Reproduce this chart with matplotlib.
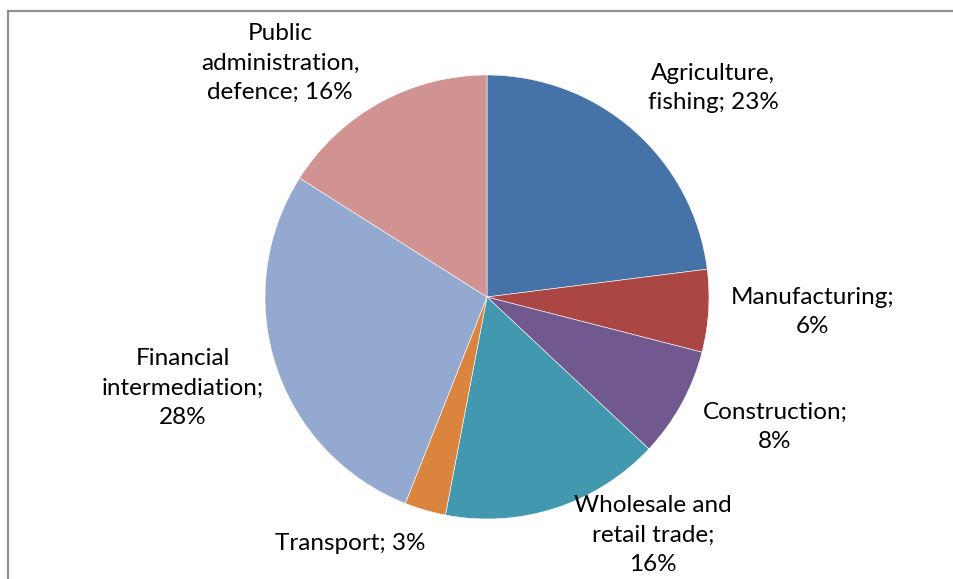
import matplotlib
matplotlib.use("Agg")
import matplotlib.pyplot as plt

plt.rcParams["font.family"] = ["Lato", "DejaVu Sans"]

sectors = [
    "Agriculture,\nfishing",
    "Manufacturing",
    "Construction",
    "Wholesale and\nretail trade",
    "Transport",
    "Financial\nintermediation",
    "Public\nadministration,\ndefence",
]
shares = [23, 6, 8, 16, 3, 28, 16]
colors = ["#4572A7", "#AA4643", "#71588F", "#4198AF",
          "#DB843D", "#93A9CF", "#D19392"]

# label text: name, then "; NN%" either on the same line or the next
label_texts = [
    "Agriculture,\nfishing; 23%",
    "Manufacturing;\n6%",
    "Construction;\n8%",
    "Wholesale and\nretail trade;\n16%",
    "Transport; 3%",
    "Financial\nintermediation;\n28%",
    "Public\nadministration,\ndefence; 16%",
]
# label centres in pixel units (x from left, y from top)
label_pos = [(713, 88), (813, 312), (775, 427), (653, 535),
             (350, 544), (183, 388), (280, 63)]

W, H = 954, 579
fig = plt.figure(figsize=(W / 100, H / 100), dpi=100)
ax = fig.add_axes([0, 0, 1, 1])

ax.pie(shares, colors=colors, startangle=90, counterclock=False,
       center=(487, H - 297), radius=222, frame=True,
       wedgeprops=dict(edgecolor="white", linewidth=0.4))
ax.set_xlim(0, W)
ax.set_ylim(0, H)
ax.set_aspect("equal")
ax.axis("off")

for txt, (px, py) in zip(label_texts, label_pos):
    ax.text(px, H - py, txt, ha="center", va="center", fontsize=17.5,
            color="black", linespacing=1.48)

# chart area border (only left and top edges fall inside the image)
ax.plot([8, 8, W + 5], [-5, H - 11, H - 11], color="#8f8f8f",
        linewidth=1.6, solid_joinstyle="miter", clip_on=False)

fig.savefig("out.png", dpi=100, facecolor="white")
